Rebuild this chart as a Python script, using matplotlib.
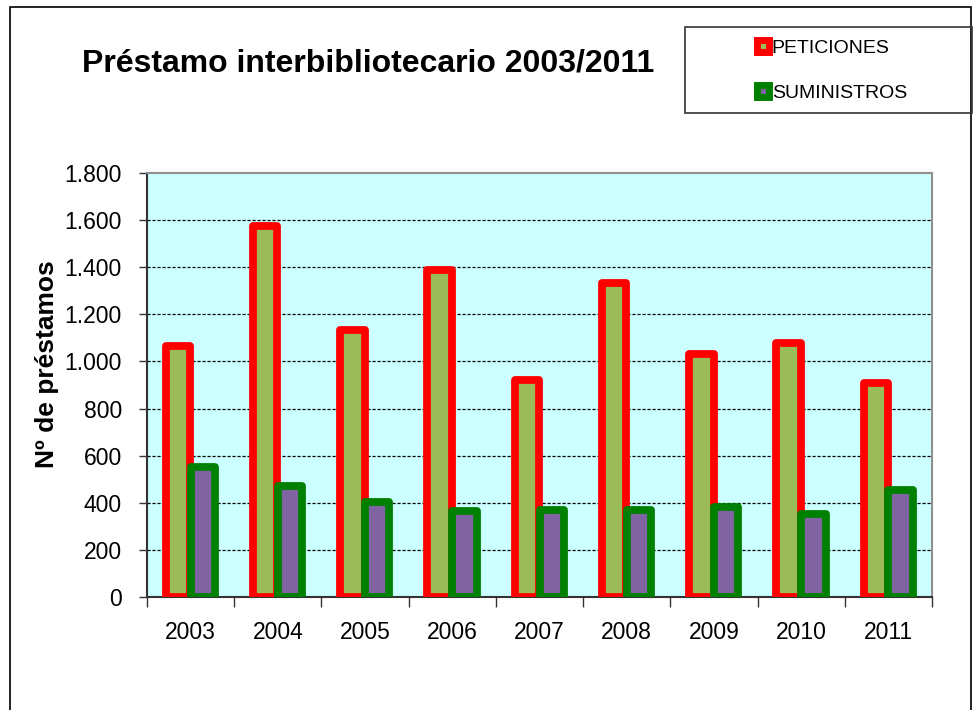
import numpy as np
import matplotlib
matplotlib.use('Agg')
import matplotlib.pyplot as plt
from matplotlib.patches import Rectangle, Patch
from matplotlib.ticker import FuncFormatter

plt.rcParams['font.family'] = ['Liberation Sans', 'DejaVu Sans']

years = ['2003', '2004', '2005', '2006', '2007', '2008', '2009', '2010', '2011']
peticiones = [1065, 1575, 1135, 1388, 921, 1333, 1033, 1080, 908]
suministros = [554, 473, 405, 363, 369, 369, 380, 354, 454]

fig = plt.figure(figsize=(9.73, 7.10), dpi=100)
ax = fig.add_axes([147 / 973, 1 - 597 / 710, (932 - 147) / 973, (597 - 173) / 710])
ax.set_facecolor('#CCFFFF')

x = np.arange(len(years))
w = 0.28
ax.bar(x - 0.145, peticiones, w, color='#9BBB59', edgecolor='#FF0000',
       linewidth=5.6, joinstyle='round', zorder=3)
ax.bar(x + 0.14, suministros, w, color='#8064A2', edgecolor='#008000',
       linewidth=5.6, joinstyle='round', zorder=4)

ax.set_xlim(-0.5, len(years) - 0.5)
ax.set_ylim(0, 1800)
ax.set_yticks(np.arange(0, 1801, 200))
ax.yaxis.set_major_formatter(FuncFormatter(lambda v, p: f"{int(v):,}".replace(',', '.')))
ax.set_xticks(x)
ax.set_xticklabels(years)
ax.set_xticks(np.arange(-0.5, len(years)), minor=True)
ax.tick_params(axis='x', which='major', length=0, labelsize=16.5, pad=17)
ax.tick_params(axis='x', which='minor', length=7, width=1, color='#333333')
ax.tick_params(axis='y', labelsize=16.5, length=6, width=1, color='#333333', pad=12)

for v in range(200, 1700, 200):
    ax.axhline(v, color='black', linewidth=0.9, linestyle=(0, (2.5, 1.5)), zorder=1)

ax.spines['left'].set_color('#333333')
ax.spines['bottom'].set_color('#333333')
ax.spines['top'].set_color('#909090')
ax.spines['right'].set_color('#909090')
for s in ax.spines.values():
    s.set_linewidth(1.5)

ax.set_ylabel('Nº de préstamos', fontsize=19, fontweight='bold')
ax.yaxis.set_label_coords((59 - 147) / (932 - 147), (597 - 364) / (597 - 173))

fig.text(82 / 973, 1 - 63 / 710, 'Préstamo interbibliotecario 2003/2011',
         fontsize=23, fontweight='bold', ha='left', va='center')

# outer frame
fig.patches.append(Rectangle((10 / 973, -0.05), (971 - 10) / 973, 1.05 - 7 / 710,
                             transform=fig.transFigure, fill=False,
                             edgecolor='black', linewidth=1.2))
# legend box
fig.patches.append(Rectangle((685 / 973, 1 - 113 / 710), (972 - 685) / 973, 86 / 710,
                             transform=fig.transFigure, fill=False,
                             edgecolor='#333333', linewidth=1.2))

handles = [Patch(facecolor='#9BBB59', edgecolor='#FF0000', linewidth=5, joinstyle='round'),
           Patch(facecolor='#8064A2', edgecolor='#008000', linewidth=5, joinstyle='round')]
fig.legend(handles, ['PETICIONES', 'SUMINISTROS'], loc='center',
           bbox_to_anchor=(832 / 973, 1 - 71 / 710), frameon=False,
           fontsize=14, handlelength=0.6, handleheight=0.6,
           handletextpad=0.15, labelspacing=1.45)

fig.savefig('out.png', dpi=100)
